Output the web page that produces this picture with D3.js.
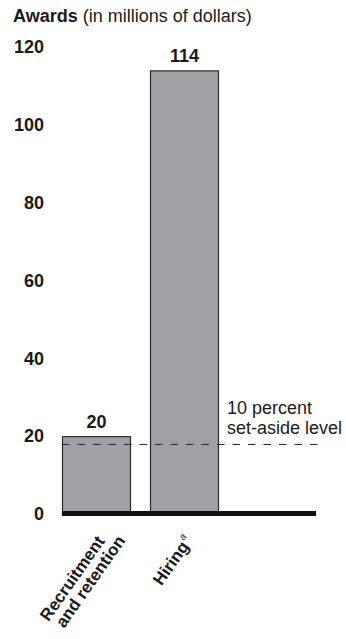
<!DOCTYPE html>
<html>
<head>
<meta charset="utf-8">
<script src="https://cdn.jsdelivr.net/npm/d3@7/dist/d3.min.js"></script>
<style>
  html, body { margin: 0; padding: 0; background: #fff; }
  svg { display: block; font-family: "Liberation Sans", Arial, sans-serif; }
</style>
</head>
<body>
<svg id="chart" width="346" height="639"></svg>
<script>
// Award amounts by grant category (millions of dollars)
const categories = ["Recruitment and retention", "Hiring"];
const awards = [20, 114];
const categoryLines = [["Recruitment", "and retention"], ["Hiring"]];
const categoryNotes = ["", "a"];
const yTicks = [0, 20, 40, 60, 80, 100, 120];
const setAsideLevel = 18;
const setAsideLabel = ["10 percent", "set-aside level"];

const FONT = 18;
const INK = "#1a1a1a";

const svg = d3.select("#chart");

const y = d3.scaleLinear().domain([0, 120]).range([514, 47]);
const x = d3.scaleBand().domain(categories).range([62, 219]).paddingInner(0.216).paddingOuter(0);

// Title
const title = svg.append("text").attr("x", 13).attr("y", 22).attr("font-size", FONT).attr("fill", INK);
title.append("tspan").attr("font-weight", "bold").text("Awards");
title.append("tspan").text(" (in millions of dollars)");

// Y-axis labels (no axis line or tick marks)
const yAxis = d3.axisLeft(y).tickValues(yTicks).tickSize(0).tickPadding(0);
const yG = svg.append("g").attr("transform", "translate(44,0)").call(yAxis);
yG.select(".domain").remove();
yG.selectAll("text")
  .attr("font-size", FONT).attr("font-weight", "bold").attr("fill", INK)
  .attr("font-family", "Liberation Sans, Arial, sans-serif");

// Bars
svg.selectAll("rect.bar").data(categories).join("rect")
  .attr("class", "bar")
  .attr("x", d => x(d) + 0.5)
  .attr("y", (d, i) => y(awards[i]) + 0.5)
  .attr("width", x.bandwidth() - 1)
  .attr("height", (d, i) => y(0) - y(awards[i]))
  .attr("fill", "#a0a1a5")
  .attr("stroke", "#2a2a2a")
  .attr("stroke-width", 1.2);

// Value labels
svg.selectAll("text.val").data(categories).join("text")
  .attr("class", "val")
  .attr("x", d => x(d) + x.bandwidth() / 2)
  .attr("y", (d, i) => y(awards[i]) - 8)
  .attr("text-anchor", "middle")
  .attr("font-size", FONT).attr("font-weight", "bold").attr("fill", INK)
  .text((d, i) => awards[i]);

// Set-aside reference line
svg.append("line")
  .attr("x1", 62).attr("x2", 318)
  .attr("y1", y(setAsideLevel) + 0.5).attr("y2", y(setAsideLevel) + 0.5)
  .attr("stroke", "#222").attr("stroke-width", 1)
  .attr("stroke-dasharray", "7.5,8");

const sa = svg.append("text").attr("font-size", FONT).attr("fill", INK);
setAsideLabel.forEach((t, i) => {
  sa.append("tspan").attr("x", 227).attr("y", 414 + i * 20).text(t);
});

// Zero baseline
svg.append("line")
  .attr("x1", 62).attr("x2", 316)
  .attr("y1", y(0) - 0.5).attr("y2", y(0) - 0.5)
  .attr("stroke", "#111").attr("stroke-width", 5);

// Rotated category labels
const angle = -55;
categories.forEach((c, i) => {
  const lines = categoryLines[i];
  const cx = x(c) + x.bandwidth() / 2;
  const g = svg.append("g")
    .attr("transform", `translate(${cx + 9},541) rotate(${angle})`);
  const t = g.append("text")
    .attr("text-anchor", "end")
    .attr("font-size", 17).attr("font-weight", "bold").attr("fill", INK);
  lines.forEach((ln, j) => {
    t.append("tspan").attr("x", j * 12).attr("y", j * 16.5).text(ln);
  });
  if (categoryNotes[i]) {
    t.append("tspan").attr("font-size", 10).attr("font-style", "italic")
      .attr("font-weight", "normal").attr("dx", 1).attr("dy", -8).text(categoryNotes[i]);
  }
});
</script>
</body>
</html>
